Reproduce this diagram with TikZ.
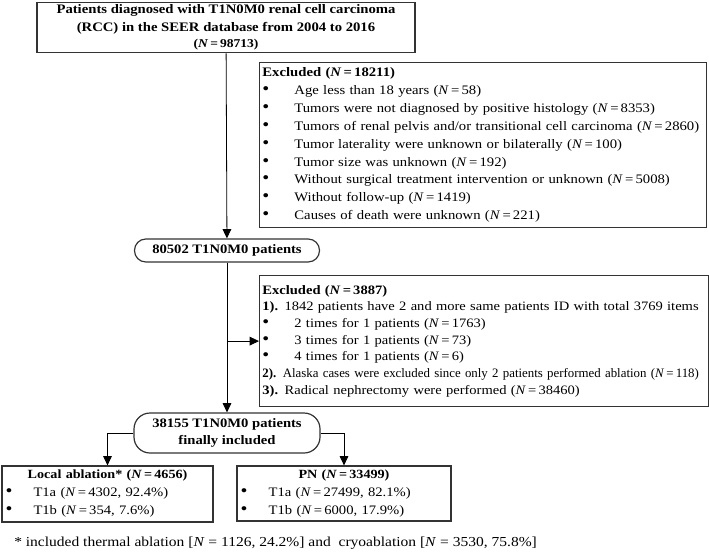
\documentclass[tikz,border=0pt]{standalone}
\usepackage{fontspec}
\setmainfont[FakeStretch=1.13]{Liberation Serif}
\newfontfamily\narrowfont{Liberation Serif}
\usetikzlibrary{arrows.meta, positioning, calc}
\newcommand{\Nv}{\textit{N}}
\newcommand{\eq}{\,=\,}
\newcommand{\bitem}[2][24pt]{\makebox[#1][l]{\scalebox{1.35}{\textbullet}}#2}

\begin{document}
\begin{tikzpicture}[
  x=0.75pt, y=-0.75pt,
  fbox/.style={draw=black!80, line width=0.9pt, inner sep=2pt},
  exbox/.style={fbox, anchor=north west, align=left},
  pill/.style={draw=black!80, line width=0.9pt, align=center, inner sep=1pt, font=\fontsize{9.7}{12.75}\selectfont\bfseries},
  flow/.style={line width=0.6pt, -{Triangle[length=7pt, width=6.5pt]}}
]
  \useasboundingbox (0,0) rectangle (709,552);

  \node[fbox, minimum width=283.5pt, minimum height=36.75pt, align=center, font=\fontsize{9.75}{13.2}\selectfont\bfseries] (src) at (226,27.5) {
    Patients diagnosed with T1N0M0 renal cell carcinoma\\
    (RCC) in the SEER database from 2004 to 2016\\[-1pt]
    {\fontsize{9}{10}\selectfont(\Nv\eq98713)}
  };

  \node[exbox, minimum width=335.25pt, minimum height=123.75pt, text width=331pt, font=\fontsize{9.75}{13.4}\selectfont] (ex1) at (259,62) {
    \textbf{Excluded (\Nv\eq18211)}\\
    \bitem{Age less than 18 years (\Nv\eq58)}\\
    \bitem{Tumors were not diagnosed by positive histology (\Nv\eq8353)}\\
    \bitem{Tumors of renal pelvis and/or transitional cell carcinoma (\Nv\eq2860)}\\
    \bitem{Tumor laterality were unknown or bilaterally (\Nv\eq100)}\\
    \bitem{Tumor size was unknown (\Nv\eq192)}\\
    \bitem{Without surgical treatment intervention or unknown (\Nv\eq5008)}\\
    \bitem{Without follow-up (\Nv\eq1419)}\\
    \bitem{Causes of death were unknown (\Nv\eq221)}
  };

  \node[pill, rounded corners=8.5pt, minimum width=138.75pt, minimum height=17.25pt] (pat) at (227,250.5) {80502 T1N0M0 patients};

  \node[exbox, minimum width=336.75pt, minimum height=98.25pt, text width=332.5pt, font=\fontsize{9.65}{12.5}\selectfont] (ex2) at (259,275) {
    \textbf{Excluded (\Nv\eq3887)}\\
    \mbox{\textbf{1).} 1842 patients have 2 and more same patients ID with total 3769 items}\\
    \bitem{2 times for 1 patients (\Nv\eq1763)}\\
    \bitem{3 times for 1 patients (\Nv\eq73)}\\
    \bitem{4 times for 1 patients (\Nv\eq6)}\\
    \mbox{\narrowfont\textbf{2).} Alaska cases were excluded since only 2 patients performed ablation (\Nv\eq118)}\\
    \textbf{3).} Radical nephrectomy were performed (\Nv\eq38460)
  };

  \node[pill, rounded corners=12pt, minimum width=139.5pt, minimum height=30pt] (fin) at (227,433) {
    38155 T1N0M0 patients\\
    finally included
  };

  \node[fbox, minimum width=158.25pt, minimum height=42pt, text width=153pt, align=left, font=\fontsize{9.7}{13.5}\selectfont] (abl) at (107.5,494) {
    \centerline{\fontsize{9.4}{13.5}\selectfont\textbf{Local ablation* (\Nv\eq4656)}}
    \bitem[21pt]{T1a (\Nv\eq4302, 92.4\%)}\\
    \bitem[21pt]{T1b (\Nv\eq354, 7.6\%)}
  };

  \node[fbox, minimum width=160.5pt, minimum height=41.25pt, text width=155pt, align=left, font=\fontsize{9.7}{13.5}\selectfont] (pn) at (344,493.5) {
    \centerline{\fontsize{9.4}{13.5}\selectfont\textbf{PN (\Nv\eq33499)}}
    \bitem[21pt]{T1a (\Nv\eq27499, 82.1\%)}\\
    \bitem[21pt]{T1b (\Nv\eq6000, 17.9\%)}
  };

  \node[anchor=west, inner sep=0pt, font=\fontsize{10.3}{12}\selectfont] (note) at (14,543) {* included thermal ablation [\Nv~=~1126, 24.2\%] and \ cryoablation [\Nv~=~3530, 75.8\%]};

  \draw[flow] (src) -- (pat);
  \draw[flow] (pat) -- (fin);
  \draw[flow] (pat |- ex2.west) -- (ex2.west);
  \draw[flow] (fin.west) -| (abl.north);
  \draw[flow] (fin.east) -| (pn.north);
\end{tikzpicture}
\end{document}
